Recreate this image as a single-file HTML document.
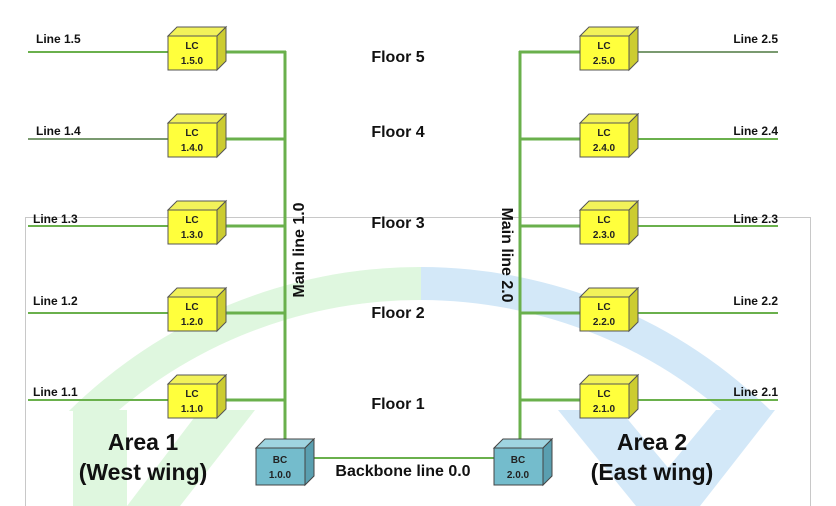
<!DOCTYPE html>
<html><head><meta charset="utf-8"><style>
html,body{margin:0;padding:0;background:#fff;width:836px;height:506px;overflow:hidden}
svg{display:block;overflow:hidden;font-family:"Liberation Sans",sans-serif}
.b{font-weight:bold}
</style></head><body>
<svg width="836" height="506" viewBox="0 0 836 506" xmlns="http://www.w3.org/2000/svg">
<defs>
<clipPath id="cl"><rect x="0" y="0" width="421" height="411"/></clipPath>
<clipPath id="cr"><rect x="421" y="0" width="415" height="411"/></clipPath>
<g id="lc">
<polygon points="0,0 9,-9 58,-9 49,0" fill="#f2f25a" stroke="#555" stroke-width="1"/>
<polygon points="49,0 58,-9 58,25 49,34" fill="#cccc30" stroke="#555" stroke-width="1"/>
<rect x="0" y="0" width="49" height="34" fill="#ffff3c" stroke="#555" stroke-width="1"/>
</g>
<g id="bc">
<polygon points="0,0 9,-9 58,-9 49,0" fill="#9fd4e0" stroke="#444" stroke-width="1"/>
<polygon points="49,0 58,-9 58,28 49,37" fill="#5a9fb0" stroke="#444" stroke-width="1"/>
<rect x="0" y="0" width="49" height="37" fill="#74bccc" stroke="#444" stroke-width="1"/>
</g>
</defs>
<path d="M25.5 506 V217.5 H810.5 V506" fill="none" stroke="#c8c8c8" stroke-width="1"/>
<g clip-path="url(#cl)">
<path d="M -80 767 A 500 500 0 0 1 920 767 L 887 767 A 467 467 0 0 0 -47 767 Z" fill="#dff7df"/>
</g>
<g clip-path="url(#cr)">
<path d="M -80 767 A 500 500 0 0 1 920 767 L 887 767 A 467 467 0 0 0 -47 767 Z" fill="#d3e8f8"/>
</g>
<polygon points="73,410 127,410 127,506 73,506" fill="#dff7df"/>
<polygon points="200,410 255,410 180,506 127,506" fill="#dff7df"/>
<polygon points="558,410 620,410 700,506 636,506" fill="#d3e8f8"/>
<polygon points="716,410 775,410 700,506 636,506" fill="#d3e8f8"/>
<g stroke="#6ab04c" fill="none">
<line x1="285" y1="51" x2="285" y2="440" stroke-width="3"/>
<line x1="520" y1="51" x2="520" y2="440" stroke-width="3"/>
<g stroke-width="3">
<line x1="226" y1="52" x2="286" y2="52"/><line x1="226" y1="139" x2="286" y2="139"/><line x1="226" y1="226" x2="286" y2="226"/><line x1="226" y1="313" x2="286" y2="313"/><line x1="226" y1="400" x2="286" y2="400"/>
<line x1="519" y1="52" x2="580" y2="52"/><line x1="519" y1="139" x2="580" y2="139"/><line x1="519" y1="226" x2="580" y2="226"/><line x1="519" y1="313" x2="580" y2="313"/><line x1="519" y1="400" x2="580" y2="400"/>
</g>
<g stroke-width="2">
<line x1="28" y1="52" x2="168" y2="52"/><line x1="28" y1="139" x2="168" y2="139" stroke="#7a9a70"/><line x1="28" y1="226" x2="168" y2="226"/><line x1="28" y1="313" x2="168" y2="313"/><line x1="28" y1="400" x2="168" y2="400"/>
<line x1="637" y1="52" x2="778" y2="52" stroke="#7a9a70"/><line x1="637" y1="139" x2="778" y2="139"/><line x1="637" y1="226" x2="778" y2="226"/><line x1="637" y1="313" x2="778" y2="313"/><line x1="637" y1="400" x2="778" y2="400"/>
<line x1="313" y1="458" x2="494" y2="458"/>
</g>
</g>
<use href="#lc" x="168" y="36"/><use href="#lc" x="168" y="123"/><use href="#lc" x="168" y="210"/><use href="#lc" x="168" y="297"/><use href="#lc" x="168" y="384"/>
<use href="#lc" x="580" y="36"/><use href="#lc" x="580" y="123"/><use href="#lc" x="580" y="210"/><use href="#lc" x="580" y="297"/><use href="#lc" x="580" y="384"/>
<use href="#bc" x="256" y="448"/><use href="#bc" x="494" y="448"/>
<g class="b" font-size="10" text-anchor="middle" fill="#222">
<text x="192" y="49">LC</text><text x="192" y="64">1.5.0</text>
<text x="192" y="136">LC</text><text x="192" y="151">1.4.0</text>
<text x="192" y="223">LC</text><text x="192" y="238">1.3.0</text>
<text x="192" y="310">LC</text><text x="192" y="325">1.2.0</text>
<text x="192" y="397">LC</text><text x="192" y="412">1.1.0</text>
<text x="604" y="49">LC</text><text x="604" y="64">2.5.0</text>
<text x="604" y="136">LC</text><text x="604" y="151">2.4.0</text>
<text x="604" y="223">LC</text><text x="604" y="238">2.3.0</text>
<text x="604" y="310">LC</text><text x="604" y="325">2.2.0</text>
<text x="604" y="397">LC</text><text x="604" y="412">2.1.0</text>
<text x="280" y="463">BC</text><text x="280" y="478">1.0.0</text>
<text x="518" y="463">BC</text><text x="518" y="478">2.0.0</text>
</g>
<g class="b" font-size="12" fill="#111">
<text x="36" y="43">Line 1.5</text><text x="36" y="135">Line 1.4</text><text x="33" y="223">Line 1.3</text><text x="33" y="305">Line 1.2</text><text x="33" y="396">Line 1.1</text>
<g text-anchor="end"><text x="778" y="43">Line 2.5</text><text x="778" y="135">Line 2.4</text><text x="778" y="223">Line 2.3</text><text x="778" y="305">Line 2.2</text><text x="778" y="396">Line 2.1</text></g>
</g>
<g class="b" font-size="16" text-anchor="middle" fill="#111">
<text x="398" y="62">Floor 5</text><text x="398" y="137">Floor 4</text><text x="398" y="228">Floor 3</text><text x="398" y="318">Floor 2</text><text x="398" y="409">Floor 1</text>
<text x="403" y="476">Backbone line 0.0</text>
<text transform="translate(304,250) rotate(-90)">Main line 1.0</text>
<text transform="translate(502,255) rotate(90)">Main line 2.0</text>
</g>
<g class="b" font-size="23" text-anchor="middle" fill="#111">
<text x="143" y="450">Area 1</text><text x="143" y="480">(West wing)</text>
<text x="652" y="450">Area 2</text><text x="652" y="480">(East wing)</text>
</g>
</svg>
</body></html>
